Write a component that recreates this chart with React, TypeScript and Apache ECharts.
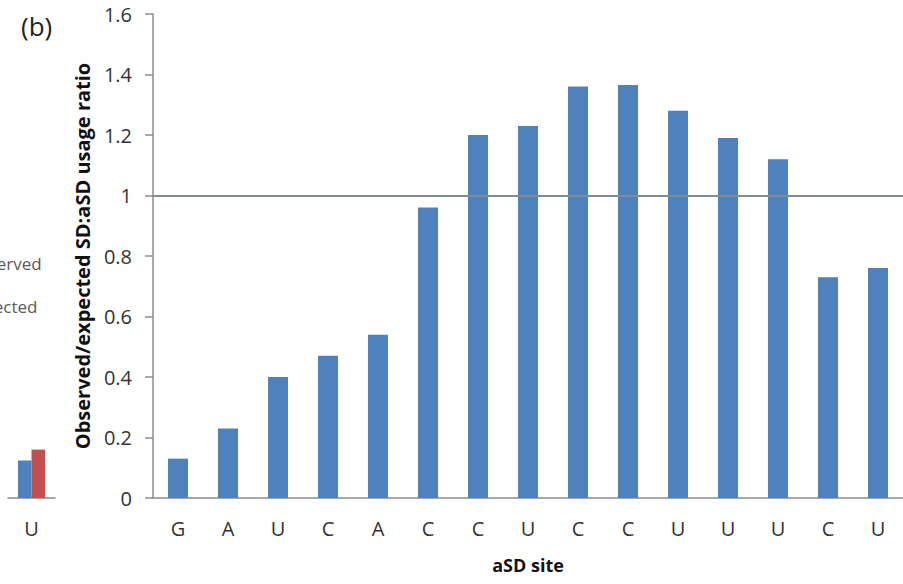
import React, { useEffect, useRef } from "react";
import * as echarts from "echarts";

// Panel (b): observed/expected SD:aSD usage ratio per aSD site
const sites = ["G", "A", "U", "C", "A", "C", "C", "U", "C", "C", "U", "U", "U", "C", "U"];
const ratio = [0.13, 0.23, 0.4, 0.47, 0.54, 0.96, 1.2, 1.23, 1.36, 1.365, 1.28, 1.19, 1.12, 0.73, 0.76];
const yMin = 0;
const yMax = 1.6;
const yStep = 0.2;
const referenceLevel = 1;

// Right-hand edge of panel (a), which sits beside panel (b)
const panelASites = ["U"];
const panelAObserved = [3.1];
const panelAExpected = [4.0];
const panelAMax = 40;

const FONT = "'Open Sans', 'DejaVu Sans', sans-serif";
const AXIS_GRAY = "#8c8c8c";
const BLUE = "#4f81bd";
const RED = "#c0504d";

export default function App() {
  const ref = useRef<HTMLDivElement>(null);

  useEffect(() => {
    document.body.style.margin = "0";
    if (!ref.current) return;
    const chart = echarts.init(ref.current, undefined, { renderer: "svg" });

    const tickLabel = { color: "#333", fontFamily: FONT, fontSize: 20 };

    chart.setOption({
      animation: false,
      backgroundColor: "#fff",
      textStyle: { fontFamily: FONT },
      title: {
        text: "(b)",
        left: 16,
        top: 8,
        textStyle: { fontFamily: FONT, fontSize: 26, fontWeight: "normal", color: "#222" },
      },
      legend: {
        data: ["Observed", "Expected"],
        orient: "vertical",
        left: -54,
        top: 255,
        padding: 0,
        itemWidth: 14,
        itemHeight: 14,
        itemGap: 26,
        textStyle: { fontFamily: FONT, fontSize: 17, color: "#595959" },
      },
      grid: [
        { left: 153, right: 0, top: 14, bottom: 86 },
        { left: 8, width: 47, top: 14, bottom: 86 },
      ],
      xAxis: [
        {
          type: "category",
          gridIndex: 0,
          data: sites,
          boundaryGap: true,
          axisLine: { lineStyle: { color: AXIS_GRAY, width: 1.5 } },
          axisTick: { alignWithLabel: false, interval: 0, length: 7, lineStyle: { color: AXIS_GRAY, width: 1.5 } },
          axisLabel: { ...tickLabel, margin: 20, interval: 0 },
          name: "aSD site",
          nameLocation: "middle",
          nameGap: 58,
          nameTextStyle: { fontFamily: FONT, fontSize: 18, fontWeight: "bold", color: "#111" },
        },
        {
          type: "category",
          gridIndex: 1,
          data: panelASites,
          boundaryGap: true,
          axisLine: { lineStyle: { color: AXIS_GRAY, width: 1.5 } },
          axisTick: { interval: 0, length: 7, lineStyle: { color: AXIS_GRAY, width: 1.5 } },
          axisLabel: { ...tickLabel, margin: 20, interval: 0 },
        },
      ],
      yAxis: [
        {
          type: "value",
          gridIndex: 0,
          min: yMin,
          max: yMax,
          interval: yStep,
          axisLine: { show: true, lineStyle: { color: AXIS_GRAY, width: 1.5 } },
          axisTick: { show: true, length: 8, lineStyle: { color: AXIS_GRAY, width: 1.5 } },
          splitLine: { show: false },
          axisLabel: { ...tickLabel, margin: 21 },
          name: "Observed/expected SD:aSD usage ratio",
          nameLocation: "middle",
          nameGap: 54,
          nameTextStyle: { fontFamily: FONT, fontSize: 20, fontWeight: "bold", color: "#111" },
        },
        {
          type: "value",
          gridIndex: 1,
          min: 0,
          max: panelAMax,
          show: false,
        },
      ],
      series: [
        {
          name: "Reference",
          type: "line",
          xAxisIndex: 0,
          yAxisIndex: 0,
          data: [],
          z: 1,
          silent: true,
          markLine: {
            silent: true,
            symbol: "none",
            label: { show: false },
            lineStyle: { color: "#7d8e99", width: 2, type: "solid" },
            data: [{ yAxis: referenceLevel }],
          },
        },
        {
          name: "SD:aSD usage ratio",
          type: "bar",
          xAxisIndex: 0,
          yAxisIndex: 0,
          data: ratio,
          barWidth: 20,
          z: 3,
          itemStyle: { color: BLUE },
        },
        {
          name: "Observed",
          type: "bar",
          xAxisIndex: 1,
          yAxisIndex: 1,
          data: panelAObserved,
          barWidth: 13.5,
          barGap: "0%",
          itemStyle: { color: BLUE },
        },
        {
          name: "Expected",
          type: "bar",
          xAxisIndex: 1,
          yAxisIndex: 1,
          data: panelAExpected,
          barWidth: 13.5,
          barGap: "0%",
          itemStyle: { color: RED },
        },
      ],
    });

    return () => chart.dispose();
  }, []);

  return <div ref={ref} style={{ width: 903, height: 584 }} />;
}
